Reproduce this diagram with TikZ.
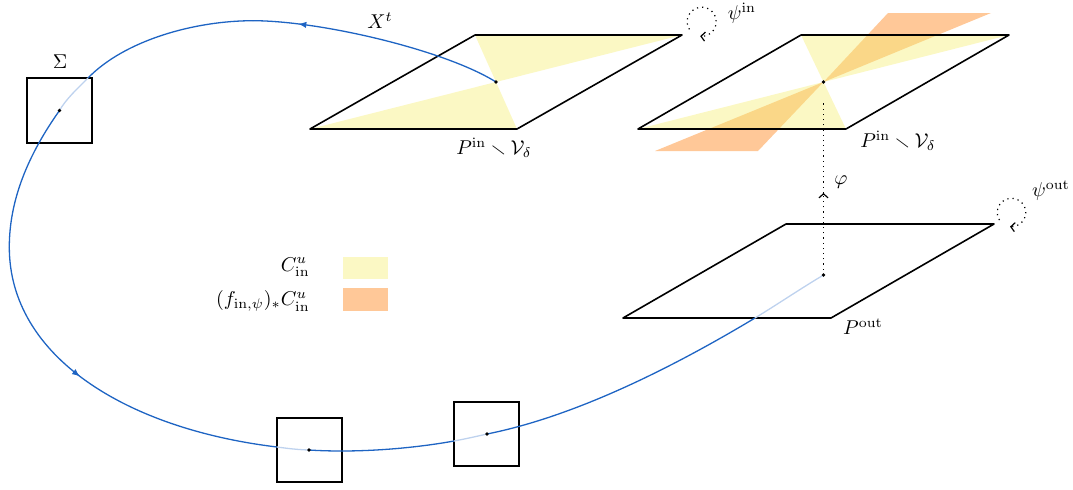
\documentclass[tikz,border=0pt]{standalone}
\usepackage{amsmath,amssymb}
\usetikzlibrary{arrows.meta,decorations.markings,calc}
\definecolor{cyel}{RGB}{245,238,115}
\definecolor{corg}{RGB}{255,200,152}
\definecolor{cblue}{RGB}{30,100,195}
\definecolor{clight}{RGB}{190,210,238}
\begin{document}
\begin{tikzpicture}[x=0.5pt,y=-0.5pt,
  plane/.style={draw=black,line width=0.8pt,line join=round},
  box/.style={draw=black,line width=0.7pt},
  flow/.style={color=cblue,line width=0.65pt},
  flowlight/.style={color=clight,line width=0.65pt},
  yel/.style={fill=cyel,fill opacity=0.42},
  org/.style={fill=corg},
  rot/.style={dotted,line width=0.6pt,-{Straight Barb[length=2pt,width=4.5pt]}},
  legtext/.style={anchor=east,inner sep=0pt},
  flowarrow/.style={postaction={decorate},decoration={markings,mark=at position #1 with {\arrow{Latex[length=4pt,width=3.2pt]}}}}
]
\useasboundingbox (0,0) rectangle (1073,489);

% ---- coordinates
\coordinate (A1) at (310,129); \coordinate (A2) at (517,129);
\coordinate (A3) at (682,35);  \coordinate (A4) at (475,35);
\coordinate (ca) at (496,82);
\coordinate (B1) at (638,129); \coordinate (B2) at (846,129);
\coordinate (B3) at (1009,35); \coordinate (B4) at (801,35);
\coordinate (cb) at (823.5,82);
\coordinate (O1) at (888,13); \coordinate (O2) at (991,13);
\coordinate (O3) at (655,151); \coordinate (O4) at (758,151);
\coordinate (C1) at (623,318); \coordinate (C2) at (831,318);
\coordinate (C3) at (994,224); \coordinate (C4) at (786,224);
\coordinate (co) at (823.5,275);
\coordinate (car) at (823.5,193);
\coordinate (ctop) at (823.5,101);
\coordinate (s1) at (59.5,110.5);
\coordinate (s2) at (309,450);
\coordinate (s3) at (487,434);
\coordinate (T) at (253,20.7);
\coordinate (e1) at (88,78);
\coordinate (L) at (9.3,247);
\coordinate (e2) at (277,447);
\coordinate (e3) at (454,441);
\coordinate (e4) at (755,318);
\coordinate (r1) at (701.7,21.7);
\coordinate (r2) at (1011.5,212.5);

% ---- fills
\fill[yel] (ca) -- (A4) -- (A3) -- cycle;
\fill[yel] (ca) -- (A1) -- (A2) -- cycle;
\fill[org] (cb) -- (O1) -- (O2) -- cycle;
\fill[org] (cb) -- (O3) -- (O4) -- cycle;
\fill[yel] (cb) -- (B4) -- (B3) -- cycle;
\fill[yel] (cb) -- (B1) -- (B2) -- cycle;

% ---- planes
\draw[plane] (A1) -- (A2) -- (A3) -- (A4) -- cycle;
\draw[plane] (B1) -- (B2) -- (B3) -- (B4) -- cycle;
\draw[plane] (C1) -- (C2) -- (C3) -- (C4) -- cycle;

% ---- sections
\draw[box] (27,78) rectangle (92,143);
\draw[box] (277,418) rectangle (342,482);
\draw[box] (454,402) rectangle (519,466);

% ---- legend
\fill[yel] (343,257) rectangle (388,279);
\fill[org] (343,288) rectangle (388,311);
\node[legtext] (leg1) at (310,267) {$C^u_{\mathrm{in}}$};
\node[legtext] (leg2) at (310,301) {$(f_{\mathrm{in},\psi})_*C^u_{\mathrm{in}}$};

% ---- flow curve
\draw[flow,flowarrow=0.82] (ca) .. controls (445,50) and (320,20.7) .. (T);
\draw[flow] (T) .. controls (195,20.7) and (125,40) .. (e1);
\draw[flowlight] (e1) .. controls (78,88) and (66,99) .. (s1);
\draw[flow] (s1) .. controls (28,155) and (9.3,200) .. (L);
\draw[flow,flowarrow=0.42] (L) .. controls (9.3,357) and (127,429) .. (e2);
\draw[flowlight] (e2) .. controls (288,448.5) and (298,449.7) .. (s2);
\draw[flow] (s2) .. controls (355,453) and (410,449) .. (e3);
\draw[flowlight] (e3) .. controls (465,439) and (476,436.5) .. (s3);
\draw[flow] (s3) .. controls (577,416) and (675,366) .. (e4);
\draw[flowlight] (e4) .. controls (778,304) and (800,289) .. (co);

% ---- phi
\draw[dotted,line width=0.6pt,-{Straight Barb[length=2pt,width=4.5pt]}] (co) -- (car);
\draw[dotted,line width=0.6pt] (car) -- (ctop);

% ---- rotations
\draw[rot] ([shift={(212:7.25pt)}]r1) arc[start angle=212,end angle=-96,radius=7.25pt];
\draw[rot] ([shift={(212:7.1pt)}]r2) arc[start angle=212,end angle=-96,radius=7.1pt];

% ---- points
\foreach \p in {ca,cb,co,s1,s2,s3} \fill (\p) circle (0.9pt);

% ---- labels
\node (sig) at (60,62) {$\Sigma$};
\node (xt) at (380,21) {$X^t$};
\node (psin) at (742,13) {$\psi^{\mathrm{in}}$};
\node (lab1) at (494,148) {$P^{\mathrm{in}}\smallsetminus\mathcal{V}_\delta$};
\node (lab2) at (898,141) {$P^{\mathrm{in}}\smallsetminus\mathcal{V}_\delta$};
\node (phi) at (841,182) {$\varphi$};
\node (psout) at (1051,191) {$\psi^{\mathrm{out}}$};
\node (pout) at (863,327) {$P^{\mathrm{out}}$};
\end{tikzpicture}
\end{document}
